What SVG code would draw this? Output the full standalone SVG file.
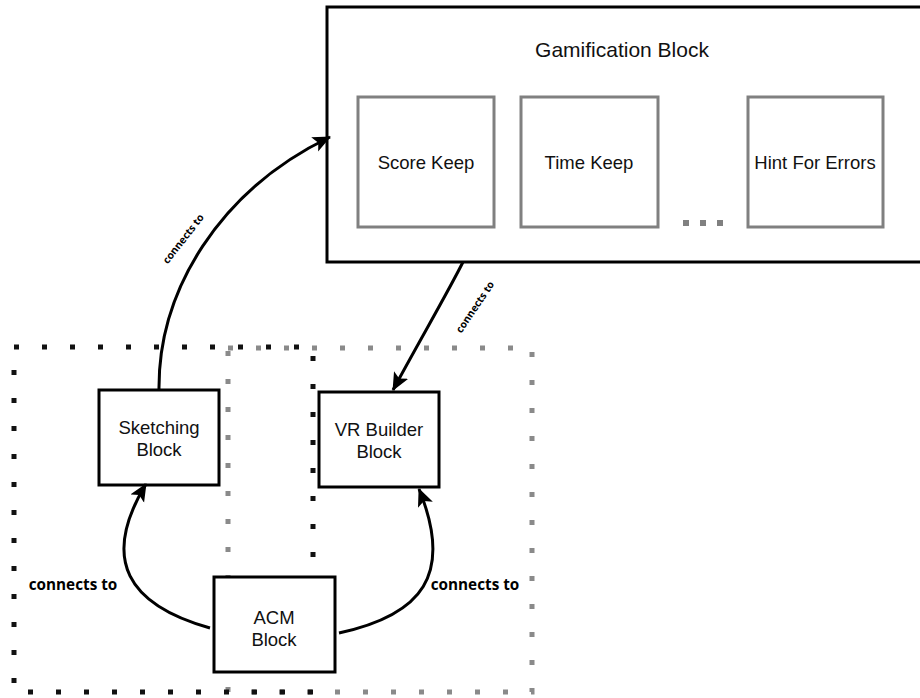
<svg xmlns="http://www.w3.org/2000/svg" width="920" height="698" viewBox="0 0 920 698">
<defs>
<marker id="ah" markerUnits="userSpaceOnUse" markerWidth="20" markerHeight="18" refX="17" refY="8" orient="auto">
<path d="M0,0 L18,8 L0,16 L4,8 Z" fill="#000"/>
</marker>
<style>
.box{fill:#fff;stroke:#000;stroke-width:3}
.inner{fill:#fff;stroke:#808080;stroke-width:3}
.t{font-family:"Liberation Sans",Arial,sans-serif;font-size:18.5px;fill:#111;text-anchor:middle}
.tt{font-family:"Liberation Sans",Arial,sans-serif;font-size:21px;fill:#111;text-anchor:middle}
.lbl{font-family:"Open Sans","Liberation Sans",sans-serif;font-weight:bold;font-size:15.3px;fill:#000;text-anchor:middle}
.lbls{font-family:"Open Sans","Liberation Sans",sans-serif;font-weight:bold;font-size:10.3px;fill:#000;text-anchor:middle}
.edge{fill:none;stroke:#000;stroke-width:3;marker-end:url(#ah)}
.dotk{fill:none;stroke:#111;stroke-width:5;stroke-dasharray:5 23}
.dotg{fill:none;stroke:#8a8a8a;stroke-width:5;stroke-dasharray:5 23}
</style>
</defs>
<rect width="920" height="698" fill="#fff"/>
<g id="groups">
<rect class="dotg" x="228" y="348" width="304" height="344"/>
<rect class="dotk" x="14" y="347" width="299" height="345"/>
</g>
<g id="gamification">
<rect class="box" x="327" y="7" width="600" height="255"/>
<text class="tt" x="622" y="57">Gamification Block</text>
</g>
<g id="score-keep">
<rect class="inner" x="358" y="97" width="136" height="130"/>
<text class="t" x="426" y="169">Score Keep</text>
</g>
<g id="time-keep">
<rect class="inner" x="521" y="97" width="137" height="130"/>
<text class="t" x="589" y="169">Time Keep</text>
</g>
<g id="ellipsis">
<rect x="683" y="220" width="6" height="6" fill="#808080"/>
<rect x="700" y="220" width="6" height="6" fill="#808080"/>
<rect x="717" y="220" width="6" height="6" fill="#808080"/>
</g>
<g id="hint">
<rect class="inner" x="748" y="97" width="135" height="130"/>
<text class="t" x="815" y="169">Hint For Errors</text>
</g>
<g id="sketching">
<rect class="box" x="99" y="390" width="120" height="95"/>
<text class="t" x="159" y="434">Sketching</text>
<text class="t" x="159" y="456">Block</text>
</g>
<g id="vr-builder">
<rect class="box" x="319" y="392" width="120" height="95"/>
<text class="t" x="379" y="436">VR Builder</text>
<text class="t" x="379" y="458">Block</text>
</g>
<g id="acm">
<rect class="box" x="214" y="577" width="121" height="95"/>
<text class="t" x="274" y="624">ACM</text>
<text class="t" x="274" y="646">Block</text>
</g>
<g id="connectors">
<path class="edge" d="M159 390 C158 290 220 190 330 137"/>
<text class="lbls" transform="translate(186 241) rotate(-52)">connects to</text>
<path class="edge" d="M463 262 C448 292 420 340 393 390"/>
<text class="lbls" transform="translate(478 309) rotate(-56)">connects to</text>
<path class="edge" d="M210 628 C128 605 100 560 146 484"/>
<text class="lbl" x="73" y="590">connects to</text>
<path class="edge" d="M339 633 C422 615 454 575 419 489"/>
<text class="lbl" x="475" y="590">connects to</text>
</g>
</svg>
